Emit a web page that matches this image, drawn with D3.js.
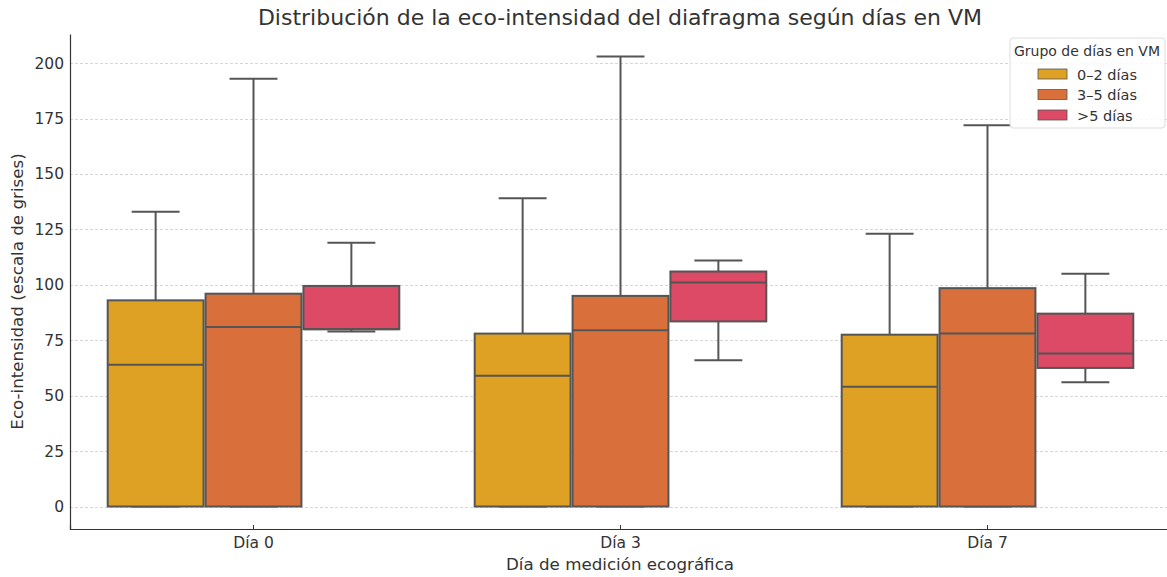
<!DOCTYPE html>
<html>
<head>
<meta charset="utf-8">
<script src="https://cdn.jsdelivr.net/npm/d3@7"></script>
<style>
  html, body { margin: 0; padding: 0; background: #fff; }
  svg { display: block; font-family: "DejaVu Sans", sans-serif; }
</style>
</head>
<body>
<svg id="chart" width="1167" height="577"></svg>
<script>
// Measurement days (x categories) and VM-day groups (hue)
const days = ["Día 0", "Día 3", "Día 7"];
const groups = ["0–2 días", "3–5 días", ">5 días"];
const groupColors = ["#dea123", "#d9703b", "#dd4a66"];

// Box statistics per day, in group order: [lower whisker, Q1, median, Q3, upper whisker]
const statsDia0 = [
  [0, 0, 64, 93, 133],
  [0, 0, 81, 96, 193],
  [79, 80, 80, 99.5, 119]
];
const statsDia3 = [
  [0, 0, 59, 78, 139],
  [0, 0, 79.5, 95, 203],
  [66, 83.5, 101, 106, 111]
];
const statsDia7 = [
  [0, 0, 54, 77.5, 123],
  [0, 0, 78, 98.5, 172],
  [56, 62.5, 69, 87, 105]
];
const yTicks = [0, 25, 50, 75, 100, 125, 150, 175, 200];

const allStats = [statsDia0, statsDia3, statsDia7];

const svg = d3.select("#chart");
const margin = { left: 70, right: -4, top: 34, bottom: 48 };
const W = 1167, H = 577;

const x = d3.scaleBand()
  .domain(days)
  .range([margin.left, W - margin.right])
  .paddingInner(0).paddingOuter(0);

const yMax = 203, yMin = 0, pad = (yMax - yMin) * 0.05;
const y = d3.scaleLinear()
  .domain([yMin - pad, yMax + pad])
  .range([H - margin.bottom, margin.top]);

const xg = d3.scaleBand()
  .domain(groups)
  .range([x.bandwidth() * 0.1, x.bandwidth() * 0.9]);

const color = d3.scaleOrdinal().domain(groups).range(groupColors);

// Dashed horizontal grid
svg.append("g")
  .selectAll("line")
  .data(yTicks)
  .join("line")
  .attr("x1", margin.left)
  .attr("x2", W)
  .attr("y1", d => Math.round(y(d)) + 0.5)
  .attr("y2", d => Math.round(y(d)) + 0.5)
  .attr("stroke", "#cccccc")
  .attr("stroke-width", 0.8)
  .attr("stroke-dasharray", "3,2");

// Boxes
const lineColor = "#555555";
const boxG = svg.append("g");
days.forEach((day, di) => {
  const gDay = boxG.append("g").attr("transform", `translate(${x(day)},0)`);
  groups.forEach((grp, gi) => {
    const [lo, q1, med, q3, hi] = allStats[di][gi];
    const bx = xg(grp) + 1;
    const bw = xg.bandwidth() - 2;
    const cx = xg(grp) + xg.bandwidth() / 2;
    const capW = bw * 0.5;
    const g = gDay.append("g");
    // whiskers
    g.append("line")
      .attr("x1", cx).attr("x2", cx)
      .attr("y1", y(q3)).attr("y2", y(hi))
      .attr("stroke", lineColor).attr("stroke-width", 2);
    g.append("line")
      .attr("x1", cx).attr("x2", cx)
      .attr("y1", y(q1)).attr("y2", y(lo))
      .attr("stroke", lineColor).attr("stroke-width", 2);
    g.append("line")
      .attr("x1", cx - capW / 2).attr("x2", cx + capW / 2)
      .attr("y1", y(hi)).attr("y2", y(hi))
      .attr("stroke", lineColor).attr("stroke-width", 2);
    g.append("line")
      .attr("x1", cx - capW / 2).attr("x2", cx + capW / 2)
      .attr("y1", y(lo)).attr("y2", y(lo))
      .attr("stroke", lineColor).attr("stroke-width", 2);
    // box
    g.append("rect")
      .attr("x", bx).attr("width", bw)
      .attr("y", y(q3)).attr("height", Math.max(0, y(q1) - y(q3)))
      .attr("fill", color(grp))
      .attr("stroke", lineColor).attr("stroke-width", 2);
    // median
    g.append("line")
      .attr("x1", bx).attr("x2", bx + bw)
      .attr("y1", y(med)).attr("y2", y(med))
      .attr("stroke", lineColor).attr("stroke-width", 2);
  });
});

// Axes
const yAxis = svg.append("g")
  .attr("transform", `translate(${margin.left},0)`)
  .call(d3.axisLeft(y).tickValues(yTicks).tickSize(0).tickPadding(6));
yAxis.select(".domain").attr("stroke", "#333").attr("stroke-width", 1.2);
yAxis.selectAll("text").attr("font-size", 15.5).attr("fill", "#333")
  .attr("font-family", "DejaVu Sans, sans-serif");

const xAxis = svg.append("g")
  .attr("transform", `translate(0,${H - margin.bottom})`)
  .call(d3.axisBottom(x).tickSize(-4).tickPadding(8));
xAxis.select(".domain").attr("stroke", "#333").attr("stroke-width", 1.2);
xAxis.selectAll(".tick line").attr("stroke", "#333");
xAxis.selectAll("text").attr("font-size", 15.5).attr("fill", "#333")
  .attr("font-family", "DejaVu Sans, sans-serif");

// Title and axis labels
svg.append("text")
  .attr("x", 620).attr("y", 25)
  .attr("text-anchor", "middle")
  .attr("font-size", 22).attr("fill", "#333")
  .text("Distribución de la eco-intensidad del diafragma según días en VM");

svg.append("text")
  .attr("x", 620).attr("y", 570)
  .attr("text-anchor", "middle")
  .attr("font-size", 16.7).attr("fill", "#333")
  .text("Día de medición ecográfica");

svg.append("text")
  .attr("transform", `translate(23,${y(97)}) rotate(-90)`)
  .attr("text-anchor", "middle")
  .attr("font-size", 16.7).attr("fill", "#333")
  .text("Eco-intensidad (escala de grises)");

// Legend
const lg = svg.append("g").attr("transform", "translate(1010,38)");
lg.append("rect")
  .attr("width", 155).attr("height", 90).attr("rx", 3)
  .attr("fill", "#fff").attr("fill-opacity", 0.85)
  .attr("stroke", "#ddd");
lg.append("text")
  .attr("x", 77).attr("y", 18)
  .attr("text-anchor", "middle")
  .attr("font-size", 14).attr("fill", "#333")
  .text("Grupo de días en VM");
groups.forEach((grp, i) => {
  const row = lg.append("g").attr("transform", `translate(0,${31 + i * 20.5})`);
  row.append("rect")
    .attr("x", 28).attr("y", 0).attr("width", 29).attr("height", 10)
    .attr("fill", color(grp)).attr("stroke", lineColor).attr("stroke-width", 0.8);
  row.append("text")
    .attr("x", 67).attr("y", 10.5)
    .attr("font-size", 14.5).attr("fill", "#333")
    .text(grp);
});
</script>
</body>
</html>
